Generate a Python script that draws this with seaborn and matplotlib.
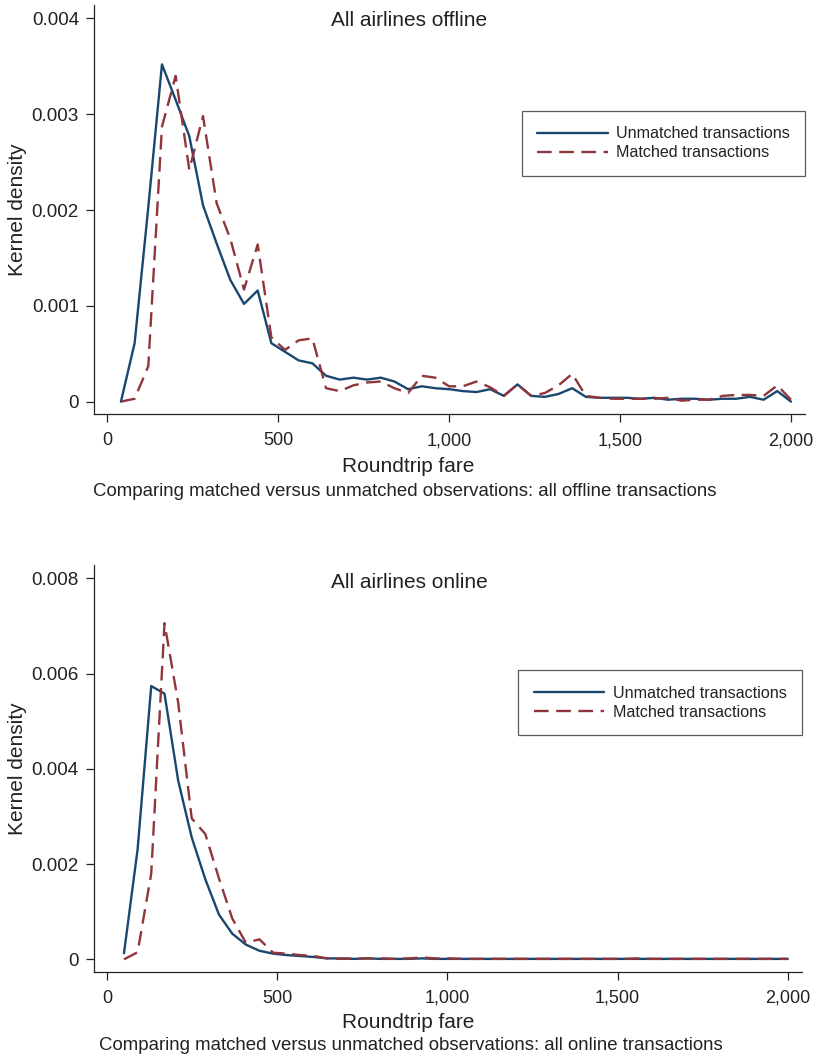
import matplotlib
matplotlib.use("Agg")
import matplotlib.pyplot as plt
import seaborn as sns

### data
fare_offline = [40, 80, 120, 160, 200, 240, 280, 320, 360, 400,
                440, 480, 520, 560, 600, 640, 680, 720, 760, 800,
                840, 880, 920, 960, 1000, 1040, 1080, 1120, 1160, 1200,
                1240, 1280, 1320, 1360, 1400, 1440, 1480, 1520, 1560, 1600,
                1640, 1680, 1720, 1760, 1800, 1840, 1880, 1920, 1960, 2000]

offline_unmatched = [0.0, 0.00061, 0.00203, 0.00352, 0.00315, 0.00277, 0.00205, 0.00165, 0.00127, 0.00102,
                     0.00116, 0.00061, 0.00052, 0.00043, 0.00040, 0.00027, 0.00023, 0.00025, 0.00023, 0.00025,
                     0.00021, 0.00013, 0.00016, 0.00014, 0.00013, 0.00011, 0.00010, 0.00013, 0.00006, 0.00018,
                     0.00006, 0.00005, 0.00008, 0.00014, 0.00005, 0.00004, 0.00004, 0.00004, 0.00003, 0.00004,
                     0.00002, 0.00003, 0.00003, 0.00002, 0.00003, 0.00003, 0.00005, 0.00002, 0.00011, 0.0]

offline_matched = [0.0, 0.00003, 0.00037, 0.00287, 0.00340, 0.00242, 0.00298, 0.00207, 0.00170, 0.00117,
                   0.00164, 0.00067, 0.00054, 0.00064, 0.00066, 0.00014, 0.00011, 0.00017, 0.00020, 0.00021,
                   0.00014, 0.00009, 0.00027, 0.00025, 0.00016, 0.00016, 0.00021, 0.00015, 0.00006, 0.00018,
                   0.00006, 0.00009, 0.00017, 0.00029, 0.00006, 0.00004, 0.00003, 0.00003, 0.00003, 0.00003,
                   0.00004, 0.00001, 0.00002, 0.00002, 0.00006, 0.00007, 0.00007, 0.00006, 0.00017, 0.00002]

fare_online = [50, 90, 130, 169, 209, 249, 289, 329, 368, 408,
               448, 488, 528, 567, 607, 647, 687, 727, 766, 806,
               846, 886, 926, 965, 1005, 1045, 1085, 1125, 1164, 1204,
               1244, 1284, 1324, 1363, 1403, 1443, 1483, 1522, 1562, 1602,
               1642, 1682, 1721, 1761, 1801, 1841, 1881, 1920, 1960, 2000]

online_unmatched = [0.00013, 0.00231, 0.00574, 0.00558, 0.00376, 0.00256, 0.00168, 0.00094, 0.00054, 0.00031,
                    0.00018, 0.00012, 0.00009, 0.00007, 0.00005, 0.00002, 0.00002, 0.00001, 0.00002, 0.00001,
                    0.00001, 0.00001, 0.00002, 0.00001, 0.00001, 0.00001, 0.00001, 0.00001, 0.00001, 0.00001,
                    0.00001, 0.00001, 0.00001, 0.00001, 0.00001, 0.00001, 0.00001, 0.00001, 0.00001, 0.00001,
                    0.00001, 0.00001, 0.00001, 0.00001, 0.00001, 0.00001, 0.00001, 0.00001, 0.00001, 0.00001]

online_matched = [0.0, 0.00015, 0.00180, 0.00706, 0.00540, 0.00296, 0.00263, 0.00170, 0.00086, 0.00035,
                  0.00042, 0.00014, 0.00012, 0.00009, 0.00007, 0.00002, 0.00001, 0.00002, 0.00002, 0.00002,
                  0.00001, 0.00002, 0.00004, 0.00002, 0.00002, 0.00001, 0.00001, 0.00001, 0.00001, 0.00001,
                  0.00001, 0.00001, 0.00001, 0.00001, 0.00001, 0.00001, 0.00001, 0.00001, 0.00002, 0.00001,
                  0.00001, 0.00001, 0.00001, 0.00001, 0.00001, 0.00001, 0.00001, 0.00001, 0.00001, 0.00001]

x_ticks = [0, 500, 1000, 1500, 2000]
x_tick_labels = ["0", "500", "1,000", "1,500", "2,000"]
offline_y_ticks = [0, 0.001, 0.002, 0.003, 0.004]
offline_y_labels = ["0", "0.001", "0.002", "0.003", "0.004"]
online_y_ticks = [0, 0.002, 0.004, 0.006, 0.008]
online_y_labels = ["0", "0.002", "0.004", "0.006", "0.008"]

series_labels = ["Unmatched transactions", "Matched transactions"]
navy = "#1a476f"
maroon = "#90353b"
ink = "#222222"

sns.set_style("ticks")
plt.rcParams["font.family"] = ["Liberation Sans", "DejaVu Sans"]
plt.rcParams["text.color"] = ink
plt.rcParams["axes.labelcolor"] = ink
plt.rcParams["xtick.color"] = ink
plt.rcParams["ytick.color"] = ink

fig = plt.figure(figsize=(8.17, 10.59), dpi=100)


### function to draw one density panel
def draw_panel(rect, fare, unmatched, matched, ylim, yticks, ylabels,
               title, title_y, label_y, note, note_x, note_y):
    ax = fig.add_axes(rect)
    sns.lineplot(x=fare, y=unmatched, ax=ax, color=navy, linewidth=1.7,
                 label=series_labels[0], sort=False)
    sns.lineplot(x=fare, y=matched, ax=ax, color=maroon, linewidth=1.7,
                 linestyle=(0, (6.2, 3.2)), label=series_labels[1], sort=False)

    ax.set_xlim(-38, 2041)
    ax.set_ylim(*ylim)
    ax.set_xticks(x_ticks)
    ax.set_xticklabels(x_tick_labels, fontsize=13)
    ax.set_yticks(yticks)
    ax.set_yticklabels(ylabels, fontsize=13.6)
    ax.tick_params(length=6, width=0.9, pad=5)
    ax.tick_params(axis="x", pad=7)
    ax.set_xlabel("")
    ax.set_ylabel("Kernel density", fontsize=15, labelpad=3.5)
    for s in ["top", "right"]:
        ax.spines[s].set_visible(False)
    for s in ["left", "bottom"]:
        ax.spines[s].set_linewidth(0.9)
        ax.spines[s].set_color(ink)

    leg = ax.legend(loc="upper right", bbox_to_anchor=(1.0, 0.741), fontsize=11.6,
                    frameon=True, fancybox=False, handlelength=4.4,
                    handletextpad=0.5, labelspacing=0.25, borderpad=0.95,
                    borderaxespad=0)
    leg.get_frame().set_edgecolor("#333333")
    leg.get_frame().set_linewidth(0.9)

    fig.text(409 / 817, title_y, title, fontsize=15, ha="center", va="center")
    fig.text(408 / 817, label_y, "Roundtrip fare", fontsize=15, ha="center", va="center")
    fig.text(note_x, note_y, note, fontsize=13.4, ha="center", va="center")
    return ax


draw_panel([0.1154, 0.6088, 0.8699, 0.3865], fare_offline, offline_unmatched, offline_matched,
           (-0.000132, 0.00414), offline_y_ticks, offline_y_labels,
           "All airlines offline", 1 - 20 / 1059, 1 - 466 / 1059,
           "Comparing matched versus unmatched observations: all offline transactions",
           405 / 817, 1 - 492 / 1059)

draw_panel([0.1151, 0.0824, 0.8662, 0.3840], fare_online, online_unmatched, online_matched,
           (-0.00026, 0.00828), online_y_ticks, online_y_labels,
           "All airlines online", 1 - 583 / 1059, 1 - 1023 / 1059,
           "Comparing matched versus unmatched observations: all online transactions",
           411 / 817, 1 - 1046 / 1059)

fig.savefig("out.png", dpi=100)
